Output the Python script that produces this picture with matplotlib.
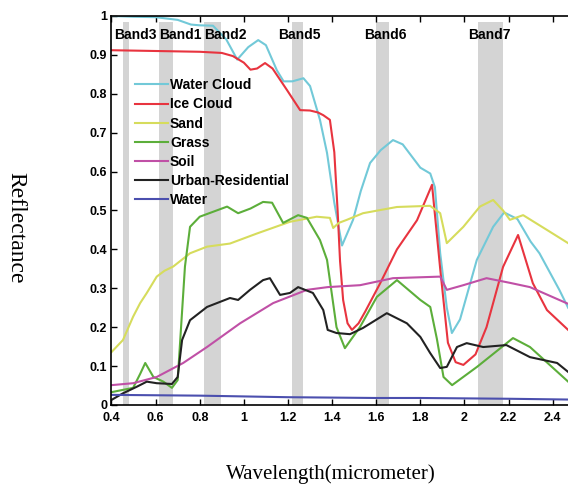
import numpy as np
import matplotlib

matplotlib.use("Agg")
import matplotlib.pyplot as plt

# spectral reflectance curves
wl_wc = [0.40, 0.50, 0.60, 0.70, 0.76, 0.80, 0.86, 0.92, 0.97, 1.02, 1.065, 1.10, 1.15, 1.18,
         1.22, 1.27, 1.30, 1.345, 1.377, 1.41, 1.445, 1.495, 1.53, 1.572, 1.62, 1.676, 1.72,
         1.80, 1.845, 1.866, 1.89, 1.92, 1.943, 1.98, 2.056, 2.13, 2.18, 2.24, 2.30, 2.34,
         2.43, 2.47]
water_cloud = [1.0, 0.998, 0.997, 0.99, 0.978, 0.976, 0.975, 0.94, 0.888, 0.92, 0.938, 0.925,
               0.86, 0.832, 0.832, 0.84, 0.82, 0.733, 0.648, 0.52, 0.41, 0.476, 0.55, 0.622,
               0.655, 0.681, 0.67, 0.61, 0.595, 0.56, 0.39, 0.25, 0.185, 0.22, 0.373, 0.458,
               0.495, 0.478, 0.42, 0.39, 0.296, 0.25]

wl_ic = [0.40, 0.60, 0.80, 0.90, 0.95, 1.00, 1.03, 1.06, 1.096, 1.13, 1.195, 1.255, 1.30,
         1.336, 1.36, 1.39, 1.41, 1.425, 1.436, 1.45, 1.47, 1.49, 1.52, 1.55, 1.618, 1.694,
         1.785, 1.853, 1.89, 1.925, 1.96, 1.995, 2.05, 2.10, 2.175, 2.243, 2.31, 2.374, 2.47]
ice_cloud = [0.912, 0.91, 0.908, 0.905, 0.897, 0.88, 0.862, 0.865, 0.879, 0.865, 0.81, 0.758,
             0.757, 0.752, 0.745, 0.733, 0.65, 0.50, 0.37, 0.27, 0.21, 0.193, 0.21, 0.24,
             0.313, 0.40, 0.475, 0.566, 0.35, 0.16, 0.11, 0.103, 0.13, 0.20, 0.355, 0.437,
             0.313, 0.244, 0.193]

wl_sa = [0.40, 0.452, 0.498, 0.53, 0.56, 0.605, 0.64, 0.68, 0.756, 0.833, 0.937, 1.06, 1.209,
         1.33, 1.39, 1.405, 1.43, 1.467, 1.54, 1.694, 1.844, 1.89, 1.92, 1.995, 2.07, 2.13,
         2.175, 2.206, 2.266, 2.374, 2.47]
sand = [0.136, 0.167, 0.227, 0.262, 0.288, 0.33, 0.345, 0.356, 0.39, 0.407, 0.415, 0.441,
        0.471, 0.484, 0.481, 0.455, 0.468, 0.476, 0.493, 0.509, 0.512, 0.493, 0.416, 0.458,
        0.51, 0.527, 0.50, 0.476, 0.488, 0.45, 0.416]

wl_gr = [0.40, 0.498, 0.53, 0.553, 0.59, 0.635, 0.674, 0.70, 0.733, 0.756, 0.80, 0.924, 0.974,
         1.03, 1.087, 1.128, 1.178, 1.246, 1.286, 1.345, 1.377, 1.42, 1.458, 1.526, 1.603,
         1.694, 1.80, 1.845, 1.875, 1.905, 1.944, 2.057, 2.22, 2.297, 2.47]
grass = [0.033, 0.044, 0.08, 0.108, 0.072, 0.06, 0.044, 0.064, 0.356, 0.458, 0.484, 0.51,
         0.493, 0.505, 0.522, 0.52, 0.468, 0.488, 0.481, 0.424, 0.373, 0.20, 0.146, 0.2,
         0.278, 0.321, 0.27, 0.252, 0.17, 0.072, 0.051, 0.098, 0.172, 0.149, 0.06]

wl_so = [0.40, 0.498, 0.605, 0.725, 0.833, 0.983, 1.133, 1.286, 1.38, 1.527, 1.676, 1.89,
         1.92, 1.995, 2.10, 2.206, 2.297, 2.47]
soil = [0.051, 0.056, 0.072, 0.108, 0.149, 0.21, 0.262, 0.296, 0.303, 0.308, 0.326, 0.33,
        0.296, 0.308, 0.326, 0.314, 0.303, 0.26]

wl_ur = [0.40, 0.452, 0.515, 0.56, 0.605, 0.674, 0.70, 0.72, 0.756, 0.833, 0.937, 0.974,
         1.028, 1.087, 1.118, 1.164, 1.209, 1.246, 1.313, 1.36, 1.38, 1.42, 1.481, 1.54,
         1.648, 1.739, 1.80, 1.844, 1.89, 1.92, 1.966, 2.01, 2.085, 2.19, 2.297, 2.42, 2.47]
urban = [0.013, 0.03, 0.047, 0.06, 0.056, 0.054, 0.072, 0.167, 0.218, 0.252, 0.275, 0.27,
         0.296, 0.321, 0.326, 0.283, 0.288, 0.303, 0.288, 0.244, 0.193, 0.185, 0.182, 0.198,
         0.236, 0.21, 0.175, 0.134, 0.095, 0.098, 0.149, 0.159, 0.149, 0.154, 0.123, 0.108,
         0.085]

wl_wa = [0.40, 0.6, 0.8, 1.0, 1.2, 1.4, 1.6, 1.8, 2.0, 2.2, 2.47]
water = [0.026, 0.025, 0.024, 0.022, 0.02, 0.019, 0.018, 0.018, 0.017, 0.016, 0.014]

# MODIS bands (grey strips) and their labels
band_names = ["Band3", "Band1", "Band2", "Band5", "Band6", "Band7"]
band_lo = [0.452, 0.615, 0.821, 1.217, 1.599, 2.063]
band_hi = [0.479, 0.677, 0.896, 1.270, 1.659, 2.173]
band_label_x = [0.51, 0.71, 0.915, 1.25, 1.64, 2.115]

series = [
    ("Water Cloud", wl_wc, water_cloud, "#72c9d8"),
    ("Ice Cloud", wl_ic, ice_cloud, "#e8343f"),
    ("Sand", wl_sa, sand, "#d6dc5c"),
    ("Grass", wl_gr, grass, "#5cae3a"),
    ("Soil", wl_so, soil, "#c050a6"),
    ("Urban-Residential", wl_ur, urban, "#222222"),
    ("Water", wl_wa, water, "#4b4fae"),
]

bold = dict(family="Liberation Sans", weight="bold")

fig = plt.figure(figsize=(5.68, 4.86), dpi=100)
ax = fig.add_axes([0.1963, 0.1667, 0.8156, 0.8004])

for lo, hi in zip(band_lo, band_hi):
    ax.fill_between([lo, hi], 0, 0.985, color="#d4d4d4", lw=0, zorder=0)
for name, xpos in zip(band_names, band_label_x):
    ax.text(xpos, 0.951, name, ha="center", va="center", fontsize=10, **bold)

for name, x, y, c in series:
    ax.plot(x, y, color=c, lw=1.5, label=name)

ax.set_xlim(0.4, 2.5)
ax.set_ylim(0, 1)
ax.set_xticks(np.arange(0.4, 2.41, 0.2))
ax.set_xticklabels(["0.4", "0.6", "0.8", "1", "1.2", "1.4", "1.6", "1.8", "2", "2.2", "2.4"])
ax.set_yticks(np.arange(0, 1.01, 0.1))
ax.set_yticklabels(["0", "0.1", "0.2", "0.3", "0.4", "0.5", "0.6", "0.7", "0.8", "0.9", "1"])
ax.tick_params(direction="in", top=True, right=True, length=4, width=1, pad=3)
ax.tick_params(axis="x", pad=5)
for lab in ax.get_xticklabels() + ax.get_yticklabels():
    lab.set_fontfamily("Liberation Sans")
    lab.set_fontweight("bold")
    lab.set_fontsize(9)
for s in ax.spines.values():
    s.set_linewidth(1.2)

leg = ax.legend(loc="upper left", bbox_to_anchor=(0.05, 0.84), frameon=False,
                handlelength=2.4, handletextpad=0.15, labelspacing=0.37, borderpad=0,
                borderaxespad=0, prop=dict(family="Liberation Sans", weight="bold", size=10))

fig.text(0.028, 0.531, "Reflectance", rotation=270, ha="center", va="center",
         family="Liberation Serif", fontsize=17)
fig.text(0.583, 0.025, "Wavelength(micrometer)", ha="center", va="center",
         family="Liberation Serif", fontsize=15)

fig.savefig("out.png", dpi=100)
